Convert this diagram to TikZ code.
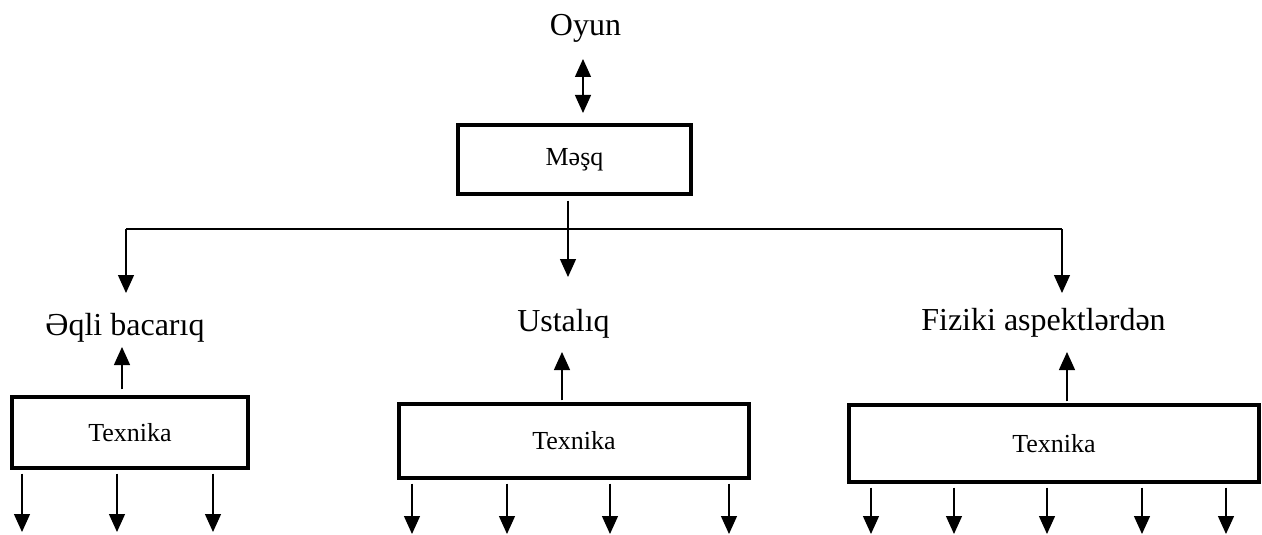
\documentclass[tikz,border=0pt]{standalone}
\usepackage{fontspec}
\setmainfont{Liberation Serif}
\usetikzlibrary{arrows.meta,calc,positioning}

\begin{document}
\begin{tikzpicture}[x=1pt, y=-1pt, >={Triangle[length=18pt,width=16pt]}, line width=1.3pt]

    \tikzstyle{box} = [rectangle, draw=black, line width=3.2pt, inner sep=0pt, text centered, font=\fontsize{26}{30}\selectfont]
    \tikzstyle{lbl} = [anchor=base, inner sep=0pt, font=\fontsize{32}{38}\selectfont]

    \useasboundingbox (0,0) rectangle (1262,535);

    \node (oyun)    [lbl] at (585.5,36)   {Oyun};
    \node (masq)    [box, minimum width=233pt, minimum height=69pt] at (574.5,159.5) {Məşq};

    \node (aqli)    [lbl] at (125,335)    {Əqli bacarıq};
    \node (ustaliq) [lbl] at (563.5,331)  {Ustalıq};
    \node (fiziki)  [lbl] at (1043.5,330) {Fiziki aspektlərdən};

    \node (tex1)    [box, minimum width=236pt, minimum height=71pt] at (130,432.5)  {Texnika};
    \node (tex2)    [box, minimum width=350pt, minimum height=74pt] at (574,441)    {Texnika};
    \node (tex3)    [box, minimum width=410pt, minimum height=77pt] at (1054,443.5) {Texnika};

    \coordinate (dtop) at (583,59);
    \coordinate (dbot) at (583,113);
    \coordinate (hub)  at (568,229);
    \coordinate (mtip) at (568,277);
    \coordinate (lhub) at (126,229);
    \coordinate (ltip) at (126,293);
    \coordinate (rhub) at (1062,229);
    \coordinate (rtip) at (1062,293);
    \coordinate (up1)  at (122,347);
    \coordinate (up2)  at (562,352);
    \coordinate (up3)  at (1067,352);

    \draw[<->] (dtop) -- (dbot);

    \draw      (lhub) -- (rhub);
    \draw[->]  ($(masq.south -| hub)+(0,5)$) -- (mtip);
    \draw[->]  (lhub) -- (ltip);
    \draw[->]  (rhub) -- (rtip);

    \draw[->]  ($(tex1.north -| up1)+(0,-6)$) -- (up1);
    \draw[->]  ($(tex2.north -| up2)+(0,-2)$) -- (up2);
    \draw[->]  ($(tex3.north -| up3)+(0,-2)$) -- (up3);

    \foreach \x in {22,117,213}
        \draw[->] ($(tex1.south -| \x,0)+(0,4)$) -- (\x,532);
    \foreach \x in {412,507,610,729}
        \draw[->] ($(tex2.south -| \x,0)+(0,4)$) -- (\x,534);
    \foreach \x in {871,954,1047,1142,1226}
        \draw[->] ($(tex3.south -| \x,0)+(0,4)$) -- (\x,534);

\end{tikzpicture}
\end{document}
